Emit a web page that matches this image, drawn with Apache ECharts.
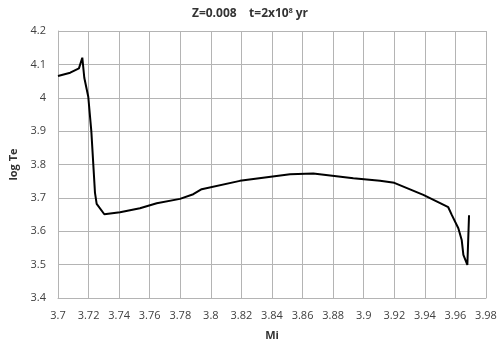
<!DOCTYPE html>
<html>
<head>
<meta charset="utf-8">
<script src="https://cdn.jsdelivr.net/npm/echarts@6/dist/echarts.min.js"></script>
<style>
  html, body { margin: 0; padding: 0; background: #fff; }
  #chart { width: 500px; height: 348px; }
</style>
</head>
<body>
<div id="chart"></div>
<script>
// Mi values (x) and log Te values (y)
const mi = [
  3.700, 3.708, 3.7137, 3.7159, 3.7172, 3.7198, 3.7218, 3.7242, 3.7253, 3.7303,
  3.7406, 3.7536, 3.7646, 3.7798, 3.7885, 3.794, 3.819, 3.8518, 3.867, 3.8932,
  3.9107, 3.92, 3.939, 3.95, 3.9553, 3.9576, 3.9619, 3.9641, 3.9652, 3.9678,
  3.9689
];
const logTe = [
  4.065, 4.075, 4.088, 4.12, 4.06, 4.003, 3.9, 3.715, 3.682, 3.651,
  3.657, 3.669, 3.684, 3.697, 3.711, 3.726, 3.751, 3.771, 3.773, 3.759,
  3.751, 3.745, 3.709, 3.684, 3.672, 3.649, 3.609, 3.574, 3.529, 3.499,
  3.648
];

const chart = echarts.init(document.getElementById('chart'));
const gridColor = '#b4b4b4';
const labelFont = { color: '#404040', fontFamily: 'Open Sans', fontSize: 11 };

chart.setOption({
  animation: false,
  title: {
    text: 'Z=0.008    t=2x10{sup|8} yr',
    left: 'center',
    top: 2,
    textStyle: {
      fontFamily: 'Open Sans',
      fontSize: 12,
      fontWeight: 'bold',
      color: '#333',
      rich: {
        sup: { fontSize: 7, fontWeight: 'bold', color: '#333', verticalAlign: 'top', padding: [0, 0, 6, 0] }
      }
    }
  },
  grid: { left: 58, right: 14, top: 31, bottom: 50 },
  xAxis: {
    type: 'value',
    min: 3.7,
    max: 3.98,
    interval: 0.02,
    name: 'Mi',
    nameLocation: 'middle',
    nameGap: 32,
    nameTextStyle: { fontFamily: 'Open Sans', fontSize: 11, fontWeight: 'bold', color: '#333' },
    axisLine: { lineStyle: { color: gridColor } },
    axisTick: { show: false },
    axisLabel: Object.assign({ margin: 12 }, labelFont),
    splitLine: { show: true, lineStyle: { color: gridColor } }
  },
  yAxis: {
    type: 'value',
    min: 3.4,
    max: 4.2,
    interval: 0.1,
    name: 'log Te',
    nameLocation: 'middle',
    nameGap: 38,
    nameTextStyle: { fontFamily: 'Open Sans', fontSize: 11, fontWeight: 'bold', color: '#333' },
    axisLine: { show: true, lineStyle: { color: gridColor } },
    axisTick: { show: false },
    axisLabel: Object.assign({ margin: 12 }, labelFont),
    splitLine: { show: true, lineStyle: { color: gridColor } }
  },
  series: [{
    type: 'line',
    data: mi.map((x, i) => [x, logTe[i]]),
    showSymbol: false,
    lineStyle: { color: '#000', width: 2 }
  }]
});
</script>
</body>
</html>
